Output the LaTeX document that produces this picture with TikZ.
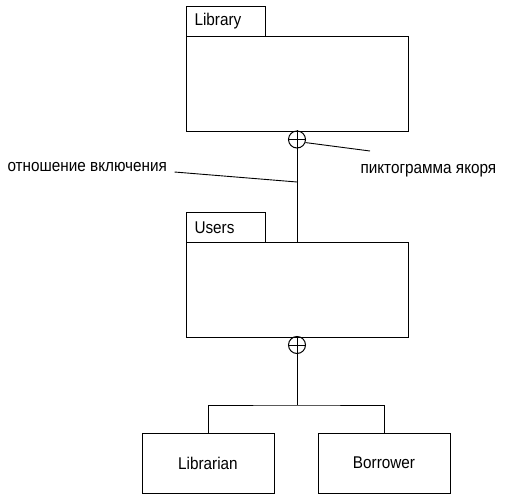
\documentclass[tikz,border=0pt]{standalone}
\usepackage{fontspec}
\setmainfont{Liberation Sans}[FakeStretch=0.9]
\begin{document}
\begin{tikzpicture}[x=1pt,y=-1pt, line width=1pt,
  txt/.style={font=\fontsize{17}{20}\selectfont},
  tab/.style={draw, anchor=north west, text width=63pt, inner xsep=8pt, inner ysep=0pt,
    minimum height=30pt, align=left, txt},
  body/.style={draw, anchor=north west, minimum width=222pt, minimum height=95pt, inner sep=0pt},
  anchorsym/.style={draw, circle, minimum size=17pt, inner sep=0pt},
  cls/.style={draw, minimum width=132pt, minimum height=60pt, inner sep=0pt, txt},
  lbl/.style={inner sep=0pt, txt},
  leader/.style={line width=0.9pt}
]
\useasboundingbox (0,0) rectangle (505,497);

% Library package
\node[tab] (libtab) at (186,6) {Library};
\node[body] (libbody) at (186,36) {};
\node[anchorsym] (a1) at (297,139.5) {};
\draw (a1.north) -- (a1.south) (a1.west) -- (a1.east);

% Users package
\node[tab] (usrtab) at (186,212) {Users};
\node[body] (usrbody) at (186,242) {};
\node[anchorsym] (a2) at (297,345) {};
\draw (a2.north) -- (a2.south) (a2.west) -- (a2.east);

% containment Library -> Users
\draw (a1.south) -- (a1.south |- usrbody.north);

% classes
\node[cls] (lib) at (208,463) {Librarian};
\node[cls] (bor) at (384,463) {Borrower};
\coordinate (bus) at (297,405);
\draw (a2.south) -- (bus);
\draw (lib.north) |- (bus) -| (bor.north);

% annotations
\node[lbl, anchor=south west] (rel) at (7,172) {отношение включения};
\coordinate (j1) at (297,182);
\draw[leader] ([xshift=7pt]rel.south east) -- (j1);

\node[lbl, anchor=west] (pic) at (360,171) {пиктограмма якоря};
\coordinate (p1) at (370,151);
\draw[leader] (a1.-20) -- (p1);
\end{tikzpicture}
\end{document}
